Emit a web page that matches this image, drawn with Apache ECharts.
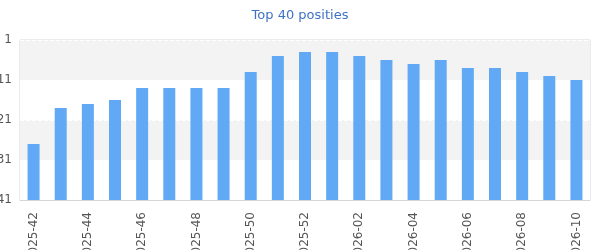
<!DOCTYPE html>
<html><head><meta charset="utf-8">
<script src="https://cdn.jsdelivr.net/npm/echarts@6/dist/echarts.min.js"></script>
<style>html,body{margin:0;padding:0;background:#fff}#c{width:600px;height:250px}</style>
</head><body><div id="c"></div>
<script>
var weeks = ["2025-42","2025-43","2025-44","2025-45","2025-46","2025-47","2025-48","2025-49","2025-50","2025-51","2025-52","2026-01","2026-02","2026-03","2026-04","2026-05","2026-06","2026-07","2026-08","2026-09","2026-10"];
var positions = [27,18,17,16,13,13,13,13,9,5,4,4,5,6,7,6,8,8,9,10,11];
var yTicks = [1,11,21,31,41];
var titleText = "Top 40 posities";

var bottomPos = yTicks[yTicks.length-1];
var chart = echarts.init(document.getElementById('c'), null, {renderer:'canvas'});
chart.setOption({
  animation:false,
  title:{text:titleText,left:'center',top:4,textStyle:{fontFamily:'DejaVu Sans',fontSize:13,fontWeight:'normal',color:'#3f72c6'}},
  grid:{left:20,right:10,top:40,bottom:50,outerBoundsMode:'none',containLabel:false,show:true,borderColor:'#d6d6d6',borderWidth:1,backgroundColor:'transparent'},
  xAxis:{type:'category',data:weeks,
    axisLine:{show:true,lineStyle:{color:'#d6d6d6'}},axisTick:{show:false},
    axisLabel:{rotate:90,interval:1,margin:12,color:'#555',fontFamily:'DejaVu Sans',fontSize:12}},
  yAxis:{type:'value',inverse:true,min:yTicks[0],max:bottomPos,interval:10,
    axisLine:{show:false},axisTick:{show:false},
    axisLabel:{margin:8,color:'#555',fontFamily:'DejaVu Sans',fontSize:12},
    splitLine:{show:true,lineStyle:{color:'#ffffff',type:'dashed'}},
    splitArea:{show:true,areaStyle:{color:['#f3f3f3','#ffffff']}}},
  series:[
    {type:'bar',stack:'p',barWidth:12,data:positions,itemStyle:{color:'transparent'},silent:true},
    {type:'bar',stack:'p',barWidth:12,data:positions.map(function(p){return bottomPos-p;}),itemStyle:{color:'#61a9f4'}}
  ]
});
</script></body></html>
